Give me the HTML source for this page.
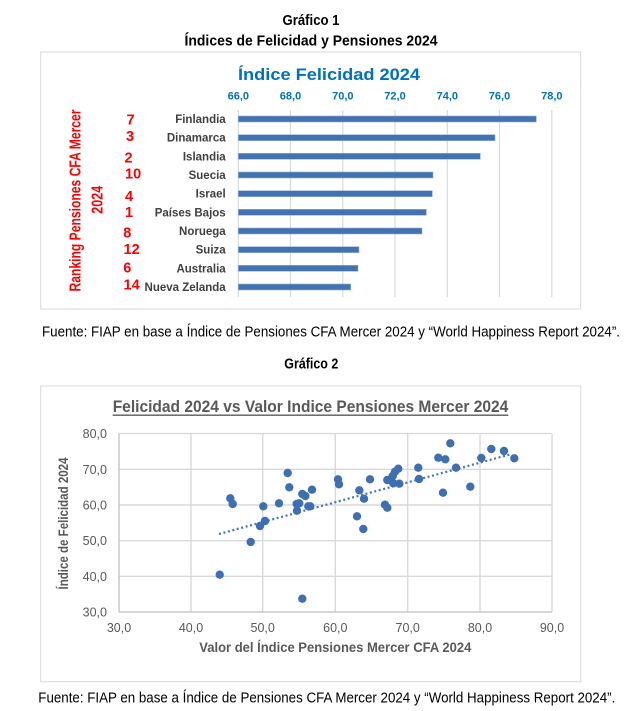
<!DOCTYPE html>
<html>
<head>
<meta charset="utf-8">
<style>
html,body{margin:0;padding:0;background:#fff;}
svg{display:block;}
</style>
</head>
<body>
<svg width="639" height="711" viewBox="0 0 639 711" xmlns="http://www.w3.org/2000/svg" font-family="'Liberation Sans', sans-serif">
<rect width="639" height="711" fill="#fff"/>

<!-- Headings -->
<text x="311" y="25" text-anchor="middle" font-weight="bold" font-size="14.5" fill="#000" textLength="57" lengthAdjust="spacingAndGlyphs">Gráfico 1</text>
<text x="311" y="45.5" text-anchor="middle" font-weight="bold" font-size="14.5" fill="#000" textLength="253" lengthAdjust="spacingAndGlyphs">Índices de Felicidad y Pensiones 2024</text>

<!-- Chart 1 box -->
<rect x="40.7" y="52" width="540" height="257" fill="#fff" stroke="#D9D9D9" stroke-width="1"/>
<text x="329" y="80" text-anchor="middle" font-weight="bold" font-size="17" fill="#0070C0" textLength="182" lengthAdjust="spacingAndGlyphs">Índice Felicidad 2024</text>

<!-- axis labels chart 1 -->
<g font-weight="bold" font-size="11" fill="#0070C0" text-anchor="middle">
<text x="238.3" y="99.5">66,0</text>
<text x="290.5" y="99.5">68,0</text>
<text x="342.8" y="99.5">70,0</text>
<text x="395" y="99.5">72,0</text>
<text x="447.3" y="99.5">74,0</text>
<text x="499.5" y="99.5">76,0</text>
<text x="551.8" y="99.5">78,0</text>
</g>

<!-- gridlines chart 1 -->
<g stroke="#D9D9D9" stroke-width="1.2">
<line x1="238.3" y1="110" x2="238.3" y2="297"/>
<line x1="290.5" y1="110" x2="290.5" y2="297"/>
<line x1="342.8" y1="110" x2="342.8" y2="297"/>
<line x1="395" y1="110" x2="395" y2="297"/>
<line x1="447.3" y1="110" x2="447.3" y2="297"/>
<line x1="499.5" y1="110" x2="499.5" y2="297"/>
<line x1="551.8" y1="110" x2="551.8" y2="297"/>
</g>

<!-- bars -->
<g fill="#4472B0" stroke="#8FB0DA" stroke-width="0.6">
<rect x="238.3" y="116" width="298" height="6"/>
<rect x="238.3" y="134.7" width="256.7" height="6"/>
<rect x="238.3" y="153.3" width="242" height="6"/>
<rect x="238.3" y="172" width="194.7" height="6"/>
<rect x="238.3" y="190.7" width="194" height="6"/>
<rect x="238.3" y="209.3" width="188" height="6"/>
<rect x="238.3" y="228" width="183.7" height="6"/>
<rect x="238.3" y="246.7" width="120.7" height="6"/>
<rect x="238.3" y="265.3" width="119.7" height="6"/>
<rect x="238.3" y="284" width="112.4" height="6"/>
</g>

<!-- country labels -->
<g font-weight="bold" font-size="11.5" fill="#404040" text-anchor="end">
<text x="225.7" y="123">Finlandia</text>
<text x="225.7" y="141.7">Dinamarca</text>
<text x="225.7" y="160.3">Islandia</text>
<text x="225.7" y="179">Suecia</text>
<text x="225.7" y="197.7">Israel</text>
<text x="225.7" y="216.3">Países Bajos</text>
<text x="225.7" y="235">Noruega</text>
<text x="225.7" y="253.7">Suiza</text>
<text x="225.7" y="272.3">Australia</text>
<text x="225.7" y="291">Nueva Zelanda</text>
</g>

<!-- red ranking numbers -->
<g font-weight="bold" font-size="14.5" fill="#FF0000">
<text x="126.5" y="124.5">7</text>
<text x="126" y="141">3</text>
<text x="124.5" y="162.5">2</text>
<text x="125" y="178.5">10</text>
<text x="125" y="201.2">4</text>
<text x="125" y="217">1</text>
<text x="123.3" y="237.5">8</text>
<text x="123.5" y="254.2">12</text>
<text x="123.3" y="272.5">6</text>
<text x="123.5" y="289.5">14</text>
</g>

<!-- rotated red axis label -->
<text transform="translate(80.5,200.5) rotate(-90)" text-anchor="middle" font-weight="bold" font-size="16" fill="#FF0000" textLength="182" lengthAdjust="spacingAndGlyphs">Ranking Pensiones CFA Mercer</text>
<text transform="translate(102.5,199.7) rotate(-90)" text-anchor="middle" font-weight="bold" font-size="16" fill="#FF0000" textLength="28" lengthAdjust="spacingAndGlyphs">2024</text>

<!-- Fuente 1 -->
<text x="42" y="336.5" font-size="14.5" fill="#000" textLength="578" lengthAdjust="spacingAndGlyphs">Fuente: FIAP en base a Índice de Pensiones CFA Mercer 2024 y “World Happiness Report 2024”.</text>

<!-- Gráfico 2 -->
<text x="311.3" y="368.3" text-anchor="middle" font-weight="bold" font-size="14.5" fill="#000" textLength="54" lengthAdjust="spacingAndGlyphs">Gráfico 2</text>

<!-- Chart 2 box -->
<rect x="40.7" y="386" width="540" height="295.7" fill="#fff" stroke="#D9D9D9" stroke-width="1"/>
<text x="310.5" y="412" text-anchor="middle" font-weight="bold" font-size="17" fill="#595959" textLength="395.6" lengthAdjust="spacingAndGlyphs">Felicidad 2024 vs Valor Indice Pensiones Mercer 2024</text>
<line x1="112.7" y1="415.2" x2="508.3" y2="415.2" stroke="#595959" stroke-width="1.3"/>

<!-- scatter gridlines -->
<g stroke="#D9D9D9" stroke-width="1.4">
<line x1="119" y1="433.6" x2="552" y2="433.6"/>
<line x1="119" y1="469.3" x2="552" y2="469.3"/>
<line x1="119" y1="505" x2="552" y2="505"/>
<line x1="119" y1="540.7" x2="552" y2="540.7"/>
<line x1="119" y1="576.3" x2="552" y2="576.3"/>
<line x1="191" y1="433.6" x2="191" y2="612"/>
<line x1="262.7" y1="433.6" x2="262.7" y2="612"/>
<line x1="335.3" y1="433.6" x2="335.3" y2="612"/>
<line x1="407.7" y1="433.6" x2="407.7" y2="612"/>
<line x1="480" y1="433.6" x2="480" y2="612"/>
<line x1="552" y1="433.6" x2="552" y2="612"/>
</g>
<g stroke="#BFBFBF" stroke-width="1.3">
<line x1="119" y1="433.6" x2="119" y2="612"/>
<line x1="119" y1="612" x2="552" y2="612"/>
</g>

<!-- y tick labels -->
<g font-size="12.5" fill="#595959" text-anchor="end">
<text x="107" y="438">80,0</text>
<text x="107" y="473.8">70,0</text>
<text x="107" y="509.5">60,0</text>
<text x="107" y="545.2">50,0</text>
<text x="107" y="580.8">40,0</text>
<text x="107" y="616.5">30,0</text>
</g>
<!-- x tick labels -->
<g font-size="12.5" fill="#595959" text-anchor="middle">
<text x="119" y="632">30,0</text>
<text x="191" y="632">40,0</text>
<text x="262.7" y="632">50,0</text>
<text x="335.3" y="632">60,0</text>
<text x="407.7" y="632">70,0</text>
<text x="480" y="632">80,0</text>
<text x="552" y="632">90,0</text>
</g>

<!-- axis titles -->
<text x="335.3" y="652" text-anchor="middle" font-weight="bold" font-size="13.5" fill="#595959" textLength="272" lengthAdjust="spacingAndGlyphs">Valor del Índice Pensiones Mercer CFA 2024</text>
<text transform="translate(68,523.5) rotate(-90)" text-anchor="middle" font-weight="bold" font-size="13.5" fill="#595959" textLength="132" lengthAdjust="spacingAndGlyphs">Índice de Felicidad 2024</text>

<!-- trend line -->
<line x1="219" y1="534" x2="511.7" y2="454" stroke="#4472C4" stroke-width="2.2" stroke-dasharray="2,2.6"/>

<!-- points -->
<g fill="#3F6FB3">
<circle cx="219.7" cy="574.7" r="4.2"/>
<circle cx="230.3" cy="498.3" r="4.2"/>
<circle cx="232.7" cy="504" r="4.2"/>
<circle cx="250.7" cy="542" r="4.2"/>
<circle cx="260" cy="526" r="4.2"/>
<circle cx="263.3" cy="506.3" r="4.2"/>
<circle cx="265" cy="521" r="4.2"/>
<circle cx="279" cy="503.3" r="4.2"/>
<circle cx="287.7" cy="473" r="4.2"/>
<circle cx="289.3" cy="487.3" r="4.2"/>
<circle cx="296.7" cy="504" r="4.2"/>
<circle cx="299.3" cy="503.3" r="4.2"/>
<circle cx="297" cy="510.7" r="4.2"/>
<circle cx="302.3" cy="494" r="4.2"/>
<circle cx="305.3" cy="496" r="4.2"/>
<circle cx="308.3" cy="506.3" r="4.2"/>
<circle cx="310.3" cy="506.3" r="4.2"/>
<circle cx="312" cy="489.7" r="4.2"/>
<circle cx="302.3" cy="598.7" r="4.2"/>
<circle cx="338" cy="479.3" r="4.2"/>
<circle cx="339" cy="484.3" r="4.2"/>
<circle cx="357" cy="516.3" r="4.2"/>
<circle cx="359.3" cy="490.3" r="4.2"/>
<circle cx="363.3" cy="529" r="4.2"/>
<circle cx="364" cy="498.7" r="4.2"/>
<circle cx="370" cy="479.3" r="4.2"/>
<circle cx="385" cy="504.7" r="4.2"/>
<circle cx="387.3" cy="507.7" r="4.2"/>
<circle cx="387.3" cy="480" r="4.2"/>
<circle cx="391" cy="480" r="4.2"/>
<circle cx="392.7" cy="476" r="4.2"/>
<circle cx="393.3" cy="483.3" r="4.2"/>
<circle cx="395" cy="471.7" r="4.2"/>
<circle cx="398.3" cy="468.7" r="4.2"/>
<circle cx="399.3" cy="483.7" r="4.2"/>
<circle cx="418.3" cy="467.7" r="4.2"/>
<circle cx="419" cy="479" r="4.2"/>
<circle cx="438.3" cy="457.7" r="4.2"/>
<circle cx="443" cy="492.7" r="4.2"/>
<circle cx="445.3" cy="459.3" r="4.2"/>
<circle cx="450.3" cy="443.3" r="4.2"/>
<circle cx="456" cy="467.7" r="4.2"/>
<circle cx="470.3" cy="486.7" r="4.2"/>
<circle cx="481.3" cy="458" r="4.2"/>
<circle cx="491.3" cy="449" r="4.2"/>
<circle cx="504" cy="451" r="4.2"/>
<circle cx="514.3" cy="458.3" r="4.2"/>
</g>

<!-- Fuente 2 -->
<text x="38.3" y="702.5" font-size="14.5" fill="#000" textLength="577" lengthAdjust="spacingAndGlyphs">Fuente: FIAP en base a Índice de Pensiones CFA Mercer 2024 y “World Happiness Report 2024”.</text>
</svg>
</body>
</html>
